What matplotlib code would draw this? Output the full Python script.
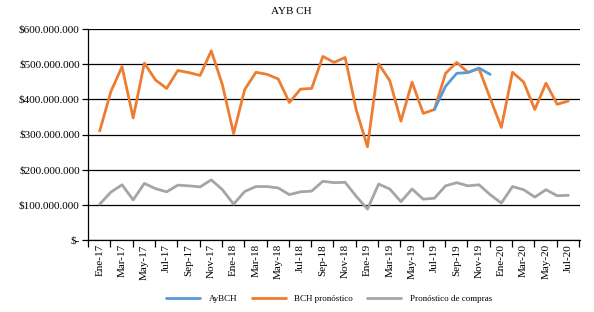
import numpy as np
import matplotlib
matplotlib.use('Agg')
import matplotlib.pyplot as plt
from matplotlib.ticker import FuncFormatter

# Months Ene-17 .. Jul-20
meses = ['Ene', 'Feb', 'Mar', 'Abr', 'May', 'Jun', 'Jul', 'Ago', 'Sep', 'Oct', 'Nov', 'Dic']
anios = ['17', '18', '19', '20']
categorias = [m + '-' + a for a in anios for m in meses][:43]

# Values in millions
bch_pronostico = [310, 422, 493, 347, 503, 455, 431, 482, 476, 468, 538, 441,
                  303, 428, 477, 471, 458, 391, 429, 431, 522, 505, 519, 369,
                  265, 501, 453, 338, 449, 360, 371, 474, 505, 477, 487, 403,
                  320, 477, 449, 371, 446, 386, 395]
pronostico_compras = [102, 136, 157, 114, 161, 146, 137, 156, 154, 151, 171, 143,
                      102, 138, 152, 152, 148, 129, 137, 139, 167, 163, 164, 124,
                      88, 159, 145, 109, 145, 116, 119, 154, 163, 154, 157, 129,
                      105, 152, 143, 122, 143, 126, 127]
# AyBCH only Jul-19 .. Dic-19
aybch_inicio = 30
aybch = [371, 437, 474, 476, 489, 471]

plt.rcParams['font.family'] = ['Liberation Serif', 'DejaVu Serif']

fig = plt.figure(figsize=(5.94, 3.12), dpi=100)
ax = fig.add_axes([88 / 594, 1 - 240 / 312, (580 - 88) / 594, (240 - 29) / 312])

x = np.arange(len(categorias))
scale = 1e6
ax.plot(x[aybch_inicio:aybch_inicio + len(aybch)], np.array(aybch) * scale,
        color='#5B9BD5', lw=2, label='AyBCH', solid_capstyle='round', zorder=4)
ax.plot(x, np.array(bch_pronostico) * scale, color='#ED7D31', lw=2,
        label='BCH pronóstico', solid_capstyle='round', zorder=3)
ax.plot(x, np.array(pronostico_compras) * scale, color='#A5A5A5', lw=2,
        label='Pronóstico de compras', solid_capstyle='round', zorder=3)

ax.set_ylim(0, 600e6)
ax.set_yticks(np.arange(0, 600e6 + 1, 100e6))


def fmt(v, pos):
    if v == 0:
        return '$-'
    return '$' + f'{int(round(v)):,}'.replace(',', '.')


ax.yaxis.set_major_formatter(FuncFormatter(fmt))
ax.grid(axis='y', color='black', lw=0.9)
ax.set_axisbelow(True)

ax.set_xlim(-1.05, 43.05)
ax.set_xticks(x[::2])
ax.set_xticklabels(categorias[::2], rotation=90)
ax.set_xticks(np.arange(-1.05, 43.1, 2), minor=True)
ax.tick_params(axis='x', which='major', length=0, labelsize=8, pad=3)
ax.tick_params(axis='x', which='minor', length=5, width=0.9, direction='out')
ax.tick_params(axis='y', length=4, width=0.9, labelsize=8, pad=2)

for s in ['top', 'right']:
    ax.spines[s].set_visible(False)
ax.spines['left'].set_linewidth(0.9)
ax.spines['bottom'].set_linewidth(0.9)

fig.text(0.49, 1 - 11 / 312, 'AYB CH', ha='center', va='center', fontsize=8)

fig.legend(loc='center', bbox_to_anchor=(329 / 594, 1 - 299 / 312), ncol=3,
           frameon=False, fontsize=6.5, handlelength=3.8, columnspacing=1.6,
           handletextpad=0.9)

fig.savefig('out.png', dpi=100)
